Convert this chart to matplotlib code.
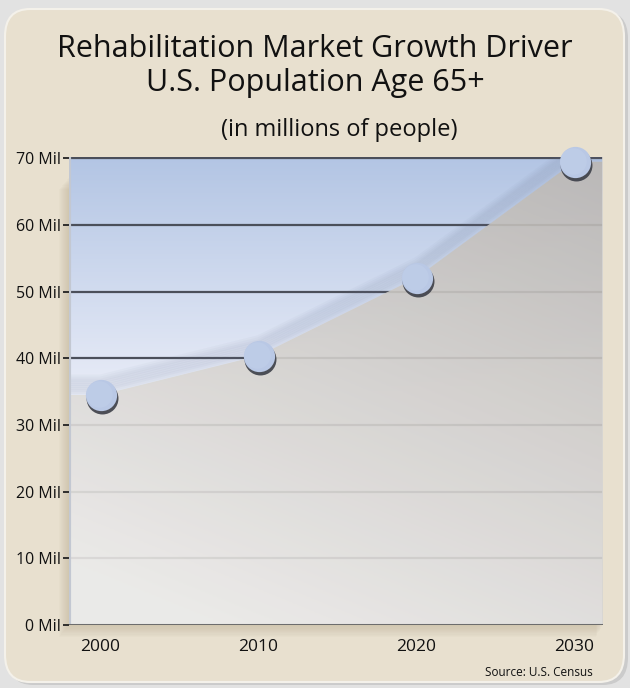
import numpy as np
import matplotlib
matplotlib.use("Agg")
import matplotlib.pyplot as plt
from matplotlib.patches import FancyBboxPatch, Rectangle, Polygon
from matplotlib import transforms

years = ["2000", "2010", "2020", "2030"]
population = [34.5, 40.4, 52.1, 69.5]
yticks = [0, 10, 20, 30, 40, 50, 60, 70]
ytick_labels = [f"{v} Mil" for v in yticks]
title_lines = ["Rehabilitation Market Growth Driver", "U.S. Population Age 65+"]
subtitle = "(in millions of people)"
source = "Source: U.S. Census"

W, H = 630, 688
fig = plt.figure(figsize=(W / 100, H / 100), dpi=100)
fig.patch.set_facecolor("#e2e2e2")

panel_shadow = FancyBboxPatch((8 / W, 3 / H), 620 / W, 674 / H,
                              boxstyle="round,pad=0,rounding_size=0.04",
                              transform=fig.transFigure, facecolor="#cbcbcb",
                              edgecolor="none", zorder=0)
fig.patches.append(panel_shadow)
panel = FancyBboxPatch((5 / W, 6 / H), 619 / W, 673 / H,
                       boxstyle="round,pad=0,rounding_size=0.04",
                       transform=fig.transFigure, facecolor="#e8e0cf",
                       edgecolor="#f4f1ea", linewidth=1.5, zorder=0.5)
fig.patches.append(panel)

left, right, top, bottom = 69, 603, 157, 625
ax_rect = [left / W, 1 - bottom / H, (right - left) / W, (bottom - top) / H]

# soft drop shadow of plot frame (left and below)
for i in range(10):
    off = 10 - i
    sh = Rectangle(((left - off) / W, (H - bottom - off * 1.2) / H),
                   (right - left + off * 0.3) / W, (bottom - top - 20) / H,
                   transform=fig.transFigure, facecolor="#a89a78", alpha=0.035,
                   edgecolor="none", zorder=0.8)
    fig.patches.append(sh)

ax = fig.add_axes(ax_rect)
ax.set_zorder(2)
x = np.arange(len(years))
xl = (-0.2, 3.18)
yl = (0, 70.2)
ax.set_xlim(*xl)
ax.set_ylim(*yl)

# blue vertical gradient background
grad = np.linspace(0, 1, 256)[:, None]
top_c = np.array([0.702, 0.773, 0.894])
bot_c = np.array([0.910, 0.925, 0.969])
t = np.clip((grad - 0.5) / 0.5, 0, 1)
img = bot_c[None, None, :] * (1 - t[..., None]) + top_c[None, None, :] * t[..., None]
img = np.repeat(img, 2, axis=1)
ax.imshow(img, origin="lower", extent=[xl[0], xl[1], yl[0], yl[1]],
          aspect="auto", zorder=0)

# gridlines
for v in yticks[1:]:
    ax.axhline(v, color="#4b4f5a", linewidth=1.6, zorder=1)

xs = np.concatenate([[xl[0]], x, [xl[1]]])
ys = np.concatenate([[population[0]], population, [population[-1]]])

# soft shadow band above the curve
for k in range(8):
    ax.plot(xs, ys + (8 - k) * 0.32, color="#6e7a94", alpha=0.045,
            linewidth=5, zorder=1.5, solid_capstyle="butt")

poly_pts = np.column_stack([np.concatenate([xs, [xl[1], xl[0]]]),
                            np.concatenate([ys, [0, 0]])])
area = Polygon(poly_pts, closed=True, facecolor="none", edgecolor="none")
ax.add_patch(area)
gx, gy = np.meshgrid(np.linspace(0, 1, 200), np.linspace(0, 1, 200))
s = np.clip(0.75 * gy + 0.35 * gx - 0.1, 0, 1)
light = np.array([0.925, 0.918, 0.906])
dark = np.array([0.735, 0.718, 0.700])
gimg = light[None, None, :] * (1 - s[..., None]) + dark[None, None, :] * s[..., None]
alpha = np.full(s.shape + (1,), 0.9)
gimg = np.concatenate([gimg, alpha], axis=2)
im2 = ax.imshow(gimg, origin="lower", extent=[xl[0], xl[1], yl[0], yl[1]],
                aspect="auto", zorder=2)
im2.set_clip_path(area)

# markers with 3D look
shadow_tr = ax.transData + transforms.ScaledTranslation(1.2 / 72, -2.2 / 72, fig.dpi_scale_trans)
ax.plot(x, population, "o", markersize=23, color="#3c3f48", alpha=0.9,
        transform=shadow_tr, zorder=3, clip_on=False, markeredgewidth=0)
ax.plot(x, population, "o", markersize=22.5, color="#b9c8e5", zorder=4,
        clip_on=False, markeredgewidth=0)
hi_tr = ax.transData + transforms.ScaledTranslation(-0.8 / 72, 0.8 / 72, fig.dpi_scale_trans)
ax.plot(x, population, "o", markersize=19, color="#c1cfea", alpha=0.6,
        transform=hi_tr, zorder=4.5, clip_on=False, markeredgewidth=0)

for sp in ax.spines.values():
    sp.set_visible(False)
ax.axvline(xl[0], color="#c3c8d2", linewidth=3, zorder=5)
ax.axvline(xl[1], color="#d8d6d2", linewidth=2, zorder=5)
ax.axhline(0, color="#6d6d6d", linewidth=2.2, zorder=5)

ax.set_xticks(x)
ax.set_xticklabels(years)
ax.set_yticks(yticks)
ax.set_yticklabels(ytick_labels)
ax.tick_params(axis="y", length=4, width=1.3, color="#222222", pad=2,
               labelsize=11.5, labelcolor="#111111")
ax.tick_params(axis="x", length=0, pad=10, labelsize=12.5, labelcolor="#111111")
for lab in ax.get_yticklabels() + ax.get_xticklabels():
    lab.set_family(["Open Sans", "DejaVu Sans"])

fig.text(315 / W, 1 - 49 / H, title_lines[0], ha="center", va="center",
         fontsize=22, family=["Open Sans", "DejaVu Sans"], color="#111111")
fig.text(315 / W, 1 - 83 / H, title_lines[1], ha="center", va="center",
         fontsize=22, family=["Open Sans", "DejaVu Sans"], color="#111111")
fig.text(339 / W, 1 - 130 / H, subtitle, ha="center", va="center",
         fontsize=17, family=["Open Sans", "DejaVu Sans"], color="#111111")
fig.text(593 / W, 1 - 672 / H, source, ha="right", va="center",
         fontsize=8.5, family=["Open Sans", "DejaVu Sans"], color="#111111")

fig.savefig("out.png", dpi=100, facecolor=fig.get_facecolor())
